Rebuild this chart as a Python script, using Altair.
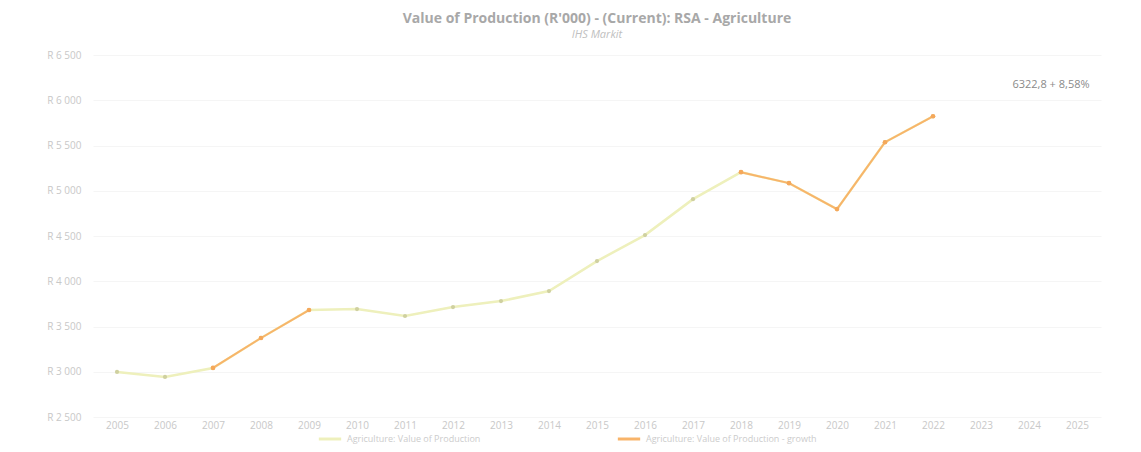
import altair as alt
import pandas as pd

# ---- data ----
years = ["2005", "2006", "2007", "2008", "2009", "2010", "2011", "2012", "2013", "2014",
         "2015", "2016", "2017", "2018", "2019", "2020", "2021", "2022", "2023", "2024", "2025"]
data_years = ["2005", "2006", "2007", "2008", "2009", "2010", "2011", "2012", "2013", "2014",
              "2015", "2016", "2017", "2018", "2019", "2020", "2021", "2022"]
values = [2998, 2943, 3042, 3373, 3682, 3693, 3616, 3715, 3781, 3892,
          4223, 4510, 4907, 5205, 5084, 4797, 5536, 5823]
highlight_years = ["2007", "2008", "2009", "2018", "2019", "2020", "2021", "2022"]
series_names = ["Agriculture: Value of Production",
                "Agriculture: Value of Production - growth"]
y_ticks = [2500, 3000, 3500, 4000, 4500, 5000, 5500, 6000, 6500]
annot_year = ["2024"]
annot_value = [6322.8]
annot_text = ["6322,8 + 8,58%"]

title_text = "Value of Production (R'000) - (Current): RSA - Agriculture"
subtitle_text = "IHS Markit"

# ---- tables ----
base = pd.DataFrame({"year": data_years, "value": values, "series": series_names[0]})
hl = base[base["year"].isin(highlight_years)].copy()
hl["series"] = series_names[1]
grp, g, prev = [], 0, None
for y in hl["year"]:
    if prev is not None and int(y) != int(prev) + 1:
        g += 1
    grp.append(g)
    prev = y
hl["seg"] = grp
annot = pd.DataFrame({"year": annot_year, "value": annot_value, "text": annot_text})

pale = "#eef0bc"
orange = "#f8b46a"

x = alt.X("year:O", scale=alt.Scale(domain=years, type="point", padding=0.5),
          axis=alt.Axis(title=None, labelAngle=0, labelColor="#c8c8c8", labelFontSize=10,
                        domain=False, ticks=False, labelPadding=3))
y = alt.Y("value:Q", scale=alt.Scale(domain=[2500, 6500], nice=False, zero=False),
          axis=alt.Axis(title=None, values=y_ticks, labelColor="#c8c8c8", labelFontSize=10,
                        domain=False, ticks=False, labelPadding=12, gridColor="#f5f5f5",
                        labelExpr="'R ' + replace(format(datum.value, ','), ',', ' ')"))
color = alt.Color("series:N", scale=alt.Scale(domain=series_names, range=[pale, orange]),
                  legend=alt.Legend(title=None, orient="none", legendX=224, legendY=371,
                                    direction="horizontal", symbolType="stroke",
                                    symbolStrokeWidth=3, symbolSize=500, labelColor="#cccccc",
                                    labelFontSize=9, columnPadding=130, labelLimit=300,
                                    padding=0))

line1 = alt.Chart(base).mark_line(strokeWidth=2.5).encode(x=x, y=y, color=color)
line2 = alt.Chart(hl).mark_line(strokeWidth=2).encode(x=x, y=y, color=color, detail="seg:N")
pts = alt.Chart(base).mark_circle(size=18, color="#cfd0a0", opacity=1).encode(x=x, y=y)
pts2 = alt.Chart(hl).mark_circle(size=22, color="#f5a85a", opacity=1).encode(x=x, y=y)
txt = alt.Chart(annot).mark_text(fontSize=11, color="#8a8a8a", dy=14, dx=22).encode(
    x=x, y=y, text="text:N")

chart = alt.layer(line1, line2, pts, pts2, txt).properties(
    width=1008, height=362,
    title=alt.TitleParams(text=title_text, subtitle=subtitle_text, anchor="middle",
                          fontSize=14, fontWeight="bold", color="#a8a8a8",
                          subtitleFontSize=11, subtitleFontStyle="italic",
                          subtitleColor="#c0c0c0", offset=10, font="Open Sans",
                          subtitleFont="Open Sans", subtitlePadding=3),
    autosize=alt.AutoSizeParams(type="none"),
    padding={"left": 85, "top": 47, "right": 32, "bottom": 27},
).configure(font="Open Sans", view=alt.ViewConfig(stroke=None))

chart.save("out.html", embed_options={"renderer": "svg", "actions": False})
